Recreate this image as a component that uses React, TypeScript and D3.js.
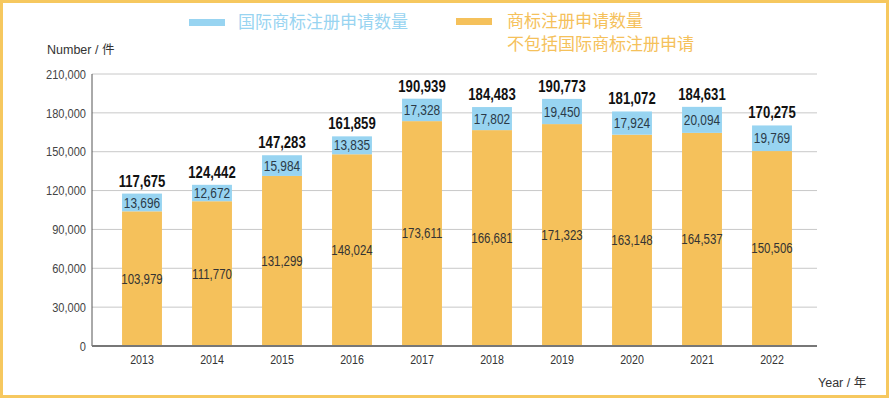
import * as d3 from 'd3';
import { useEffect, useRef } from 'react';

const years = ['2013', '2014', '2015', '2016', '2017', '2018', '2019', '2020', '2021', '2022'];
const intlApps = [13696, 12672, 15984, 13835, 17328, 17802, 19450, 17924, 20094, 19769];
const domesticApps = [103979, 111770, 131299, 148024, 173611, 166681, 171323, 163148, 164537, 150506];
const totals = [117675, 124442, 147283, 161859, 190939, 184483, 190773, 181072, 184631, 170275];
const yTicks = [0, 30000, 60000, 90000, 120000, 150000, 180000, 210000];

const legendIntl = '国际商标注册申请数量';
const legendDomestic = ['商标注册申请数量', '不包括国际商标注册申请'];

const BLUE = '#98D4F1';
const ORANGE = '#F5C15B';
const SANS = '"Liberation Sans", Arial, sans-serif';
const CJK = '"Noto Sans CJK SC", "Noto Sans", sans-serif';
const SQUEEZE = 0.82; // condensed look, no narrow font installed

function App() {
    const svgRef = useRef<SVGSVGElement>(null);

    useEffect(() => {
        const w = 889;
        const h = 398;
        const svg = d3.select(svgRef.current)
            .attr('width', w)
            .attr('height', h);
        svg.selectAll('*').remove();

        svg.append('rect')
            .attr('x', 1.5).attr('y', 1.5)
            .attr('width', w - 3).attr('height', h - 3)
            .attr('fill', '#fff')
            .attr('stroke', '#F6C85F')
            .attr('stroke-width', 3);

        const left = 92, right = 817, top = 74, bottom = 346;

        const x = d3.scaleBand()
            .domain(years)
            .range([107, 807]);
        const barW = x.bandwidth() * 0.57;

        const y = d3.scaleLinear()
            .domain([0, 210000])
            .range([bottom, top]);

        const fmt = d3.format(',');
        const at = (px: number, py: number) => `translate(${px},${py}) scale(${SQUEEZE},1)`;

        // gridlines + tick labels
        const grid = svg.append('g');
        grid.selectAll('line')
            .data(yTicks.filter(d => d > 0))
            .join('line')
                .attr('x1', left).attr('x2', right)
                .attr('y1', d => y(d)).attr('y2', d => y(d))
                .attr('stroke', '#c8c8c8')
                .attr('stroke-width', 1);
        grid.selectAll('text')
            .data(yTicks)
            .join('text')
                .attr('transform', d => at(left - 6, y(d)))
                .attr('dy', '0.35em')
                .attr('text-anchor', 'end')
                .style('font-family', SANS)
                .style('font-size', '13.5px')
                .attr('fill', '#444')
                .text(d => fmt(d));

        // bars
        const bars = svg.append('g');
        bars.selectAll('.dom')
            .data(domesticApps)
            .join('rect')
                .attr('class', 'dom')
                .attr('x', (v, i) => x(years[i])! + (x.bandwidth() - barW) / 2)
                .attr('y', v => y(v))
                .attr('width', barW)
                .attr('height', v => bottom - y(v))
                .attr('fill', ORANGE);
        bars.selectAll('.intl')
            .data(intlApps)
            .join('rect')
                .attr('class', 'intl')
                .attr('x', (v, i) => x(years[i])! + (x.bandwidth() - barW) / 2)
                .attr('y', (v, i) => y(domesticApps[i] + v))
                .attr('width', barW)
                .attr('height', (v, i) => y(domesticApps[i]) - y(domesticApps[i] + v))
                .attr('fill', BLUE);

        const cx = (i: number) => x(years[i])! + x.bandwidth() / 2;

        // labels
        const labels = svg.append('g')
            .attr('text-anchor', 'middle')
            .style('font-family', SANS);
        labels.selectAll('.lDom')
            .data(domesticApps)
            .join('text')
                .attr('class', 'lDom')
                .attr('transform', (v, i) => at(cx(i), (y(v) + bottom) / 2))
                .attr('dy', '0.35em')
                .style('font-size', '14px')
                .attr('fill', '#333')
                .text(v => fmt(v));
        labels.selectAll('.lIntl')
            .data(intlApps)
            .join('text')
                .attr('class', 'lIntl')
                .attr('transform', (v, i) => at(cx(i), (y(domesticApps[i]) + y(domesticApps[i] + v)) / 2))
                .attr('dy', '0.35em')
                .style('font-size', '14.5px')
                .attr('fill', '#2a3a48')
                .text(v => fmt(v));
        labels.selectAll('.lTot')
            .data(totals)
            .join('text')
                .attr('class', 'lTot')
                .attr('transform', (v, i) => at(cx(i), y(v) - 7))
                .style('font-size', '16px')
                .style('font-weight', 'bold')
                .attr('fill', '#111')
                .text(v => fmt(v));

        // axes lines
        svg.append('line')
            .attr('x1', left).attr('x2', left)
            .attr('y1', top).attr('y2', bottom)
            .attr('stroke', '#555').attr('stroke-width', 1);
        svg.append('line')
            .attr('x1', left).attr('x2', right)
            .attr('y1', bottom).attr('y2', bottom)
            .attr('stroke', '#777').attr('stroke-width', 2);

        svg.append('g')
            .selectAll('text')
            .data(years)
            .join('text')
                .attr('transform', d => at(x(d)! + x.bandwidth() / 2, 364))
                .attr('text-anchor', 'middle')
                .style('font-family', SANS)
                .style('font-size', '13px')
                .attr('fill', '#333')
                .text(d => d);

        // axis titles
        svg.append('text')
            .attr('x', 47).attr('y', 50).attr('dy', '0.35em')
            .style('font-family', SANS + ', ' + CJK)
            .style('font-size', '12.5px')
            .attr('fill', '#333')
            .text('Number / 件');
        svg.append('text')
            .attr('x', 818).attr('y', 383).attr('dy', '0.35em')
            .style('font-family', SANS + ', ' + CJK)
            .style('font-size', '12.5px')
            .attr('fill', '#333')
            .text('Year / 年');

        // legend
        const legend = svg.append('g').style('font-family', CJK).style('font-size', '17px');
        legend.append('rect')
            .attr('x', 189).attr('y', 19).attr('width', 36).attr('height', 7)
            .attr('fill', BLUE);
        legend.append('text')
            .attr('x', 238).attr('y', 22).attr('dy', '0.35em')
            .attr('fill', BLUE)
            .text(legendIntl);
        legend.append('rect')
            .attr('x', 456).attr('y', 18).attr('width', 36).attr('height', 7)
            .attr('fill', ORANGE);
        legend.selectAll('.ld')
            .data(legendDomestic)
            .join('text')
                .attr('class', 'ld')
                .attr('x', 507)
                .attr('y', (d, i) => 21 + i * 23)
                .attr('dy', '0.35em')
                .attr('fill', ORANGE)
                .text(d => d);
    }, []);

    return (
        <div>
            <svg ref={svgRef} style={{ position: 'absolute', left: 0, top: 0 }}></svg>
        </div>
    );
}

export default App;
